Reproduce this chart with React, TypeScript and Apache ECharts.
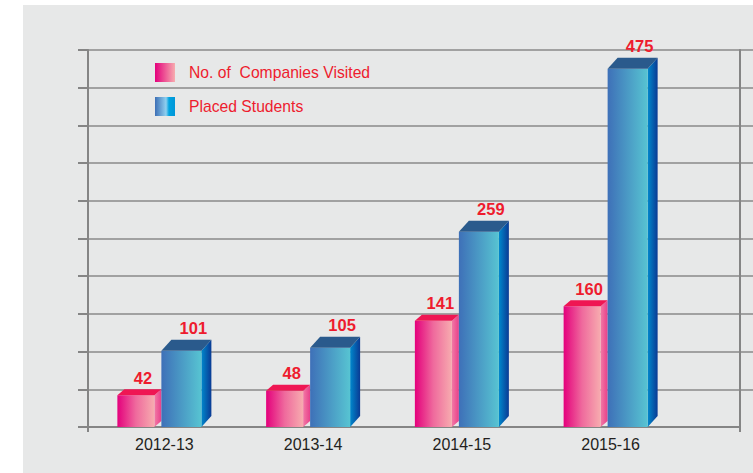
import React, { useEffect, useRef } from "react";
import * as echarts from "echarts";

const categories = ["2012-13", "2013-14", "2014-15", "2015-16"];
const companiesVisited = [42, 48, 141, 160];
const placedStudents = [101, 105, 259, 475];
const seriesNames = ["No. of  Companies Visited", "Placed Students"];
const yMin = 0;
const yMax = 500;
const yInterval = 50;

const FONT = "'Liberation Sans', Arial, sans-serif";
const RED = "#ee1c2e";

const grad = (stops: [number, string][]) =>
  new echarts.graphic.LinearGradient(
    0, 0, 1, 0,
    stops.map(([offset, color]) => ({ offset, color }))
  );

type BarStyle = {
  left: number; right: number; dx: number; dy: number; labelShift: number;
  front: [number, string][]; side: [number, string][]; top: string;
};

const pinkStyle: BarStyle = {
  left: -47, right: -10, dx: 7, dy: 6, labelShift: 7,
  front: [[0, "#e4007c"], [0.5, "#ef6a9d"], [1, "#f7acaf"]],
  side: [[0, "#f27aa6"], [1, "#e8408a"]],
  top: "#ef1653",
};
const blueStyle: BarStyle = {
  left: -3, right: 37, dx: 10, dy: 11, labelShift: 12,
  front: [[0, "#3e70b8"], [1, "#57c4d2"]],
  side: [[0, "#0088cc"], [1, "#0a3a94"]],
  top: "#2a5a8c",
};

function makeRender(st: BarStyle) {
  return (_params: any, api: any) => {
    const idx = api.value(0);
    const val = api.value(1);
    const topPt = api.coord([idx, val]);
    const basePt = api.coord([idx, 0]);
    const cx = topPt[0];
    const x0 = cx + st.left;
    const x1 = cx + st.right;
    const yt = topPt[1];
    const yb = basePt[1];
    return {
      type: "group",
      children: [
        {
          type: "polygon",
          shape: { points: [[x1, yb], [x1, yt], [x1 + st.dx, yt - st.dy], [x1 + st.dx, yb - st.dy]] },
          style: { fill: grad(st.side) },
        },
        {
          type: "rect",
          shape: { x: x0, y: yt, width: x1 - x0, height: yb - yt },
          style: { fill: grad(st.front) },
        },
        {
          type: "polygon",
          shape: { points: [[x0, yt], [x1, yt], [x1 + st.dx, yt - st.dy], [x0 + st.dx, yt - st.dy]] },
          style: { fill: st.top },
        },
        {
          type: "text",
          x: (x0 + x1) / 2 + st.labelShift,
          y: yt - st.dy - 3,
          style: {
            text: String(val),
            align: "center",
            verticalAlign: "bottom",
            fill: RED,
            font: `bold 16.5px ${FONT}`,
          },
        },
      ],
    };
  };
}

export default function App() {
  const ref = useRef<HTMLDivElement>(null);
  useEffect(() => {
    if (!ref.current) return;
    const chart = echarts.init(ref.current, undefined, { renderer: "svg" });
    const pinkLegend = grad([[0, "#e4007c"], [1, "#f7acaf"]]);
    const blueLegend = grad([[0, "#3d6fb5"], [0.55, "#8fd0f0"], [0.7, "#00a3e0"], [1, "#0096d8"]]);
    chart.setOption({
      animation: false,
      legend: {
        left: 155,
        top: 63,
        padding: 0,
        orient: "vertical",
        icon: "rect",
        itemWidth: 20,
        itemHeight: 19,
        itemGap: 15,
        selectedMode: false,
        textStyle: { color: RED, fontSize: 15.7, fontFamily: FONT, padding: [0, 0, 0, 9] },
        data: [
          { name: seriesNames[0], itemStyle: { color: pinkLegend } },
          { name: seriesNames[1], itemStyle: { color: blueLegend } },
        ],
      },
      grid: [
        { left: 88, right: 0, top: 50, bottom: 46 },
        { left: 88, right: 13, top: 50, bottom: 46 },
        { left: 90, width: 595, top: 50, bottom: 46 },
      ],
      xAxis: [
        { type: "category", gridIndex: 0, data: [""], show: false },
        {
          type: "category", gridIndex: 1, data: [""],
          axisLine: { show: true, lineStyle: { color: "#858585", width: 2 } },
          axisTick: { show: true, length: 5, lineStyle: { color: "#858585", width: 2 } },
          axisLabel: { show: false },
          splitLine: { show: false },
        },
        {
          type: "category", gridIndex: 2, data: categories,
          axisLine: { show: false },
          axisTick: { show: false },
          axisLabel: { color: "#231f20", fontSize: 16, fontFamily: FONT, margin: 9 },
        },
      ],
      yAxis: [
        {
          type: "value", gridIndex: 0, min: yMin, max: yMax, interval: yInterval,
          axisLine: { show: true, lineStyle: { color: "#858585", width: 2 } },
          axisTick: { show: true, length: 10, lineStyle: { color: "#858585", width: 2 } },
          axisLabel: { show: false },
          splitLine: { show: true, showMinLine: false, lineStyle: { color: "#8a8a8a", width: 1.5 } },
        },
        {
          type: "value", gridIndex: 1, position: "right", min: yMin, max: yMax, interval: yInterval,
          axisLine: { show: true, lineStyle: { color: "#858585", width: 2 } },
          axisTick: { show: false },
          axisLabel: { show: false },
          splitLine: { show: false },
        },
        {
          type: "value", gridIndex: 2, min: yMin, max: yMax, interval: yInterval, show: false,
        },
      ],
      series: [
        {
          name: seriesNames[0],
          type: "custom",
          xAxisIndex: 2,
          yAxisIndex: 2,
          clip: false,
          itemStyle: { color: pinkLegend },
          renderItem: makeRender(pinkStyle),
          data: companiesVisited.map((v, i) => [i, v]),
        },
        {
          name: seriesNames[1],
          type: "custom",
          xAxisIndex: 2,
          yAxisIndex: 2,
          clip: false,
          itemStyle: { color: blueLegend },
          renderItem: makeRender(blueStyle),
          data: placedStudents.map((v, i) => [i, v]),
        },
      ],
    });
    return () => chart.dispose();
  }, []);
  return (
    <div style={{ position: "absolute", left: 0, top: 0, width: 753, height: 473, background: "#ffffff", overflow: "hidden" }}>
      <div style={{ position: "absolute", left: 23, top: 5, width: 730, height: 468, background: "#e7e8e8" }} />
      <div ref={ref} style={{ position: "absolute", left: 0, top: 0, width: 753, height: 473 }} />
    </div>
  );
}
